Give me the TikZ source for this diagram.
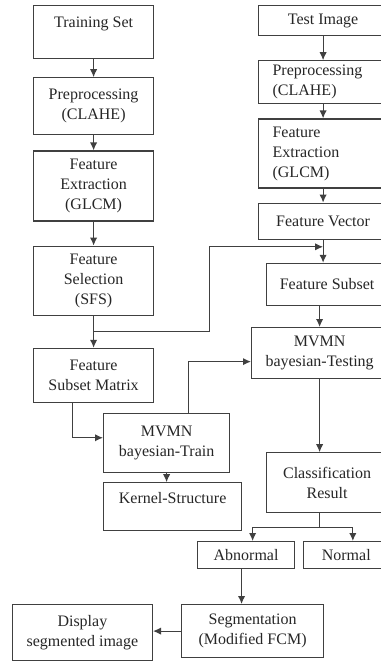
\documentclass[tikz,border=0pt]{standalone}
\usepackage{fontspec}
\setmainfont{Liberation Serif}
\usetikzlibrary{arrows.meta,positioning,calc}

\begin{document}
\begin{tikzpicture}[x=0.75pt, y=-0.75pt,
  blk/.style={draw=black!75, line width=0.9pt, inner sep=2pt, align=center, text=black!85, font=\fontsize{12}{15}\selectfont},
  lcol/.style={blk, minimum width=90pt},
  lblk/.style={blk, align=left, inner xsep=10.5pt, text width=75.75pt},
  flow/.style={-{Latex[length=6pt,width=5.5pt]}, line width=0.9pt, draw=black!75},
  link/.style={line width=0.9pt, draw=black!75}]
\useasboundingbox (0,0) rectangle (380,661);
% Training branch
\node[lcol, minimum height=39.75pt, text height=8pt, text depth=14.75pt, anchor=north west] (ts) at (33,5) {Training Set};
\node[lcol, minimum height=42.75pt, below=13.5pt of ts] (lpre) {Preprocessing\\(CLAHE)};
\node[lcol, minimum height=52.5pt, below=11.25pt of lpre] (lfeat) {Feature\\Extraction\\(GLCM)};
\node[lcol, minimum height=51.75pt, below=18pt of lfeat] (fsel) {Feature\\Selection\\(SFS)};
\node[lcol, minimum height=40.5pt, below=24pt of fsel] (fsm) {Feature\\Subset Matrix};
\draw[flow] (ts) -- (lpre);
\draw[flow] (lpre) -- (lfeat);
\draw[flow] (lfeat) -- (fsel);
\draw[flow] (fsel) -- (fsm);
% Test branch
\node[blk, minimum width=96.75pt, minimum height=22.5pt, anchor=north west] (ti) at (258,5) {Test Image};
\node[lblk, minimum height=32.25pt, below=18pt of ti] (rpre) {Preprocessing\\(CLAHE)};
\node[lblk, minimum height=51.75pt, below=10.5pt of rpre] (rfeat) {Feature\\Extraction\\(GLCM)};
\node[blk, minimum width=96.75pt, minimum height=27pt, below=10.5pt of rfeat] (fvec) {Feature Vector};
\node[blk, minimum width=90.75pt, minimum height=31.5pt, below=17.25pt of fvec.south east, anchor=north east] (fsub) {Feature Subset};
\node[blk, minimum width=102pt, minimum height=38.25pt, below=15.75pt of fsub.south east, anchor=north east] (mtest) {MVMN\\bayesian-Testing};
\node[blk, minimum width=90.75pt, minimum height=45pt, below=54.75pt of mtest.south east, anchor=north east] (cres) {Classification\\Result};
\draw[flow] (ti) -- (rpre);
\draw[flow] (rpre) -- (rfeat);
\draw[flow] (rfeat) -- (fvec);
\draw[flow] (fvec.south) -- (fvec.south |- fsub.north);
\draw[flow] (mtest.north |- fsub.south) -- (mtest.north);
\draw[flow] (mtest.south) -- (mtest.south |- cres.north);
% Selected features to the test side
\coordinate (jn) at ($(fvec.south)+(0,7)$);
\coordinate (br) at ($(fsel.south)!0.5!(fsm.north)$);
\draw[flow] (br) -- ++(116,0) |- (jn);
% Training model
\node[blk, minimum width=94.5pt, minimum height=44.25pt, anchor=north west] (mtrain) at (103,413) {MVMN\\bayesian-Train};
\node[blk, minimum width=103.5pt, minimum height=36pt, text height=8pt, text depth=12.5pt, below=6.75pt of mtrain.south west, anchor=north west] (kern) {Kernel-Structure};
\draw[flow] ([xshift=-15.75pt]fsm.south) |- ([yshift=4pt]mtrain.west);
\draw[flow] ([xshift=16.5pt]mtrain.north) |- ([yshift=-6.4pt]mtest.west);
\draw[flow] (mtrain.south) -- (mtrain.south |- kern.north);
% Result
\node[blk, minimum width=72.75pt, minimum height=20.25pt, anchor=north west] (abn) at (197,541) {Abnormal};
\node[blk, minimum width=63.75pt, minimum height=20.25pt, right=6pt of abn] (nrm) {Normal};
\draw[link] (cres.south -| mtest.south) -- ++(0,14) coordinate (sp);
\draw[flow] (sp) -| ([xshift=4.9pt]abn.north);
\draw[flow] (sp) -| ([xshift=4.9pt]nrm.north);
% Segmentation
\node[blk, minimum width=106.5pt, minimum height=39.75pt, anchor=north west] (seg) at (181,604) {Segmentation\\(Modified FCM)};
\node[blk, minimum width=105pt, minimum height=42pt, left=21pt of seg.north west, anchor=north east] (disp) {Display\\segmented image};
\draw[flow] ([xshift=-3.4pt]abn.south) -- ([xshift=-3.4pt]abn.south |- seg.north);
\draw[flow] (seg.west) -- (seg.west -| disp.east);
\end{tikzpicture}
\end{document}
